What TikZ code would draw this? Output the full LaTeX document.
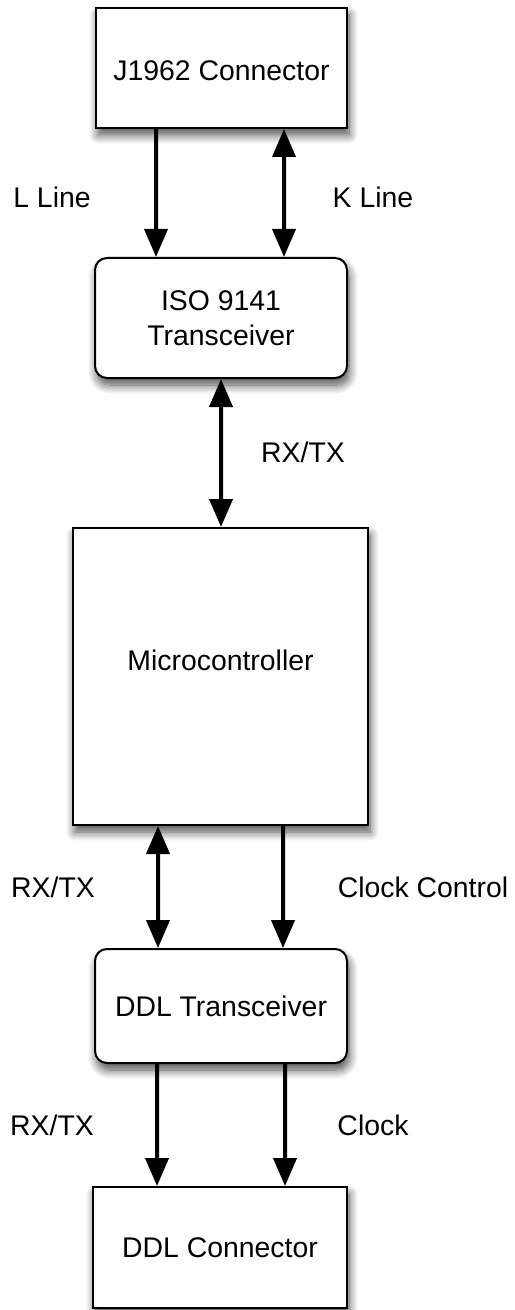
\documentclass[tikz,border=0pt]{standalone}
\usepackage{fontspec}
\setmainfont{Liberation Sans}
\usetikzlibrary{arrows.meta}
\usetikzlibrary{shadows.blur}
\pgfdeclarelayer{edgelayer}
\pgfdeclarelayer{nodelayer}
\pgfsetlayers{edgelayer,nodelayer,main}
\tikzstyle{block}=[rectangle,fill=white,draw=black,line width=1pt,inner sep=0pt,align=center,font=\fontsize{14.2}{17.5}\selectfont,blur shadow={shadow xshift=1pt,shadow yshift=-3.5pt,shadow blur radius=4.5pt,shadow blur steps=10,shadow opacity=70}]
\tikzstyle{roundblock}=[block,rounded corners=6pt]
\tikzstyle{signal}=[inner sep=0pt,font=\fontsize{14.2}{17.5}\selectfont]
\tikzstyle{oneway}=[-{Triangle[length=14pt,width=11.5pt]},line width=2pt,draw=black]
\tikzstyle{bothway}=[{Triangle[length=14pt,width=11.5pt]}-{Triangle[length=14pt,width=11.5pt]},line width=2pt,draw=black]

\begin{document}
\begin{tikzpicture}[x=5pt,y=5pt]
	\useasboundingbox (0,0) rectangle (51.4,-131);
	\begin{pgfonlayer}{nodelayer}
		\node [style=block, minimum width=125.5pt, minimum height=60pt] (0) at (22.15, -6.8) {};
		\node [style=signal] (21) at (22.15, -7.1) {J1962 Connector};
		\node [style=roundblock, minimum width=126pt, minimum height=60pt] (1) at (22.1, -31.8) {ISO 9141\\Transceiver};
		\node [style=block, minimum width=147.5pt, minimum height=148.5pt] (2) at (22.05, -67.65) {};
		\node [style=signal] (20) at (22.05, -66) {Microcontroller};
		\node [style=roundblock, minimum width=126pt, minimum height=57pt] (3) at (22.1, -100.6) {DDL Transceiver};
		\node [style=block, minimum width=127pt, minimum height=60.5pt] (4) at (22, -124.75) {DDL Connector};
		% signal names
		\node [style=signal] (5) at (5.2, -19.7) {L Line};
		\node [style=signal] (6) at (37.3, -19.7) {K Line};
		\node [style=signal] (7) at (30.3, -45.2) {RX/TX};
		\node [style=signal] (8) at (5.3, -88.7) {RX/TX};
		\node [style=signal] (9) at (42.3, -88.7) {Clock Control};
		\node [style=signal] (10) at (5.2, -112.5) {RX/TX};
		\node [style=signal] (11) at (37.3, -112.5) {Clock};
	\end{pgfonlayer}
	\begin{pgfonlayer}{edgelayer}
		\draw [style=oneway] ([xshift=-32.75pt]0.south) to ([xshift=-32.5pt]1.north);
		\draw [style=bothway] ([xshift=31.25pt]0.south) to ([xshift=31.5pt]1.north);
		\draw [style=bothway] (1.south) to ([xshift=0.25pt]2.north);
		\draw [style=bothway] ([xshift=-31.25pt]2.south) to ([xshift=-31.5pt]3.north);
		\draw [style=oneway] ([xshift=31.25pt]2.south) to ([xshift=31pt]3.north);
		\draw [style=oneway] ([xshift=-32pt]3.south) to ([xshift=-31.5pt]4.north);
		\draw [style=oneway] ([xshift=32pt]3.south) to ([xshift=32.5pt]4.north);
	\end{pgfonlayer}
\end{tikzpicture}
\end{document}
